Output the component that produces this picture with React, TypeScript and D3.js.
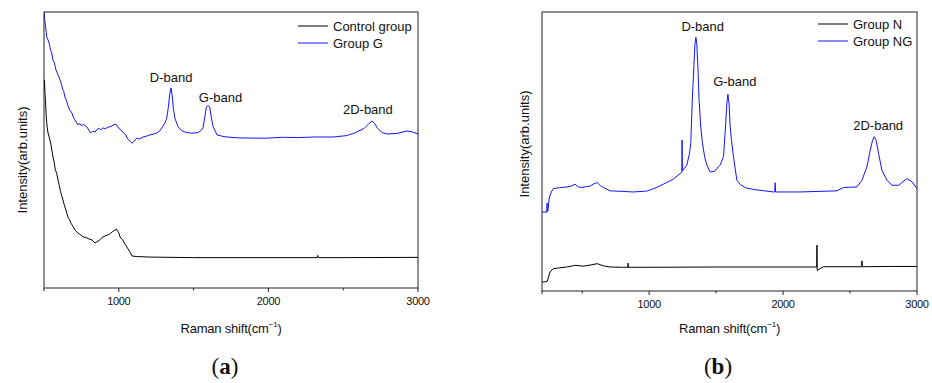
import React from "react";
import * as d3 from "d3";

// ---------- Panel (a) data ----------
const aGroupGX = [500, 505, 510, 518, 527, 535, 545, 552, 560, 570, 580, 592, 607, 615, 625, 632, 640, 650, 660, 672, 687, 695, 705, 715, 727, 740, 750, 765, 787, 800, 810, 825, 841, 855, 870, 880, 894, 910, 930, 950, 975, 990, 1000, 1015, 1028, 1045, 1060, 1075, 1088, 1100, 1120, 1140, 1162, 1185, 1210, 1235, 1255, 1275, 1290, 1309, 1320, 1330, 1340, 1349, 1356, 1365, 1375, 1396, 1420, 1442, 1480, 1523, 1545, 1563, 1575, 1585, 1597, 1608, 1618, 1630, 1656, 1690, 1723, 1800, 1900, 1990, 2100, 2200, 2300, 2432, 2520, 2580, 2600, 2640, 2670, 2692, 2710, 2730, 2760, 2793, 2860, 2926, 2960, 3000];
const aGroupGY = [100, 97, 95, 91, 89.9, 88.5, 86, 85.2, 82.6, 81.5, 79, 77.5, 75.4, 74.2, 72, 71.2, 69.2, 68, 66, 64.5, 63.4, 62, 61, 60.2, 59.1, 59.6, 58.8, 59.3, 58.3, 57.2, 56.2, 56.8, 56.5, 57.5, 57.8, 57.3, 58.0, 57.7, 58.3, 58.6, 59.4, 58.8, 57.8, 57.2, 56.5, 55.5, 54, 53.2, 52.5, 53.0, 54.3, 54.0, 54.7, 55.0, 55.5, 55.8, 56.2, 57.0, 58.2, 59.8, 61.5, 65, 70, 72.5, 70, 65, 61.5, 58.5, 57.0, 56.5, 56.1, 56.2, 56.8, 58.0, 62, 65.5, 66.2, 65.5, 62, 58.5, 55.5, 55.0, 54.7, 54.4, 54.3, 54.3, 54.6, 54.5, 54.7, 54.7, 55.2, 56.2, 56.8, 57.8, 59.5, 60.5, 59.6, 57.8, 56.3, 55.8, 56.0, 56.9, 56.6, 55.8];

const aControlX = [500, 503, 507, 510, 514, 518, 522, 527, 533, 540, 548, 560, 568, 575, 585, 594, 602, 610, 618, 627, 636, 645, 652, 660, 670, 680, 693, 707, 720, 735, 748, 761, 780, 800, 820, 841, 855, 870, 882, 894, 910, 930, 945, 960, 975, 985, 990, 1000, 1008, 1025, 1040, 1058, 1075, 1088, 1120, 1208, 1500, 2000, 2326, 2330, 2334, 2500, 3000];
const aControlY = [72, 75.4, 70, 68, 63, 60, 58, 56.2, 55, 53.6, 51.5, 47.5, 45.5, 43, 41.5, 39.1, 37.2, 35, 33.5, 31.9, 30, 28.5, 27.2, 25.7, 24.8, 23.5, 22.4, 21.0, 20.3, 19.5, 19.2, 18.5, 18.3, 17.8, 17.4, 16.3, 16.8, 17.2, 18.0, 18.5, 18.9, 19.3, 19.8, 20.5, 21.0, 21.4, 20.8, 20.0, 18.5, 17.5, 16.0, 14.5, 13.0, 11.6, 11.4, 11.2, 11.0, 11.0, 11.0, 11.8, 11.0, 11.0, 11.1];

// ---------- Panel (b) data ----------
const bGroupNGX = [200, 222, 236, 238, 240, 244, 255, 270, 284, 330, 385, 420, 447, 470, 497, 530, 559, 590, 613, 635, 658, 708, 800, 882, 982, 1057, 1106, 1181, 1231, 1244, 1246, 1248, 1260, 1281, 1300, 1311, 1322, 1334, 1342, 1349, 1356, 1364, 1373, 1385, 1398, 1415, 1431, 1455, 1490, 1517, 1530, 1555, 1570, 1580, 1588, 1597, 1605, 1615, 1630, 1655, 1680, 1720, 1779, 1929, 1938, 1941, 1944, 2128, 2402, 2452, 2552, 2589, 2626, 2651, 2668, 2681, 2695, 2713, 2738, 2776, 2813, 2863, 2925, 2963, 3000];
const bGroupNGY = [28.3, 28.3, 28.3, 31.5, 28.5, 28.7, 33.7, 35.5, 36.7, 37.0, 37.3, 37.6, 38.3, 37.3, 37.1, 37.4, 37.6, 38.5, 38.8, 37.8, 37.1, 35.9, 35.7, 35.5, 35.8, 37.1, 38.3, 40.1, 42.1, 42.6, 54.1, 43.0, 43.8, 45.1, 49, 53, 68.4, 80.4, 88.5, 90.9, 88.5, 80.4, 68.4, 59, 53, 48, 45.1, 42.7, 42.9, 44.5, 45.1, 48.1, 58.8, 67, 70.5, 67, 58.8, 54, 48.1, 39.7, 38.2, 37.0, 36.4, 35.5, 35.5, 38.8, 35.5, 35.5, 35.9, 37.1, 37.3, 39.7, 44.5, 50.5, 54, 55.3, 54, 49.3, 43.3, 39.7, 37.9, 37.9, 40.3, 39.1, 36.7];

const bGroupNX = [200, 222, 240, 260, 284, 330, 385, 447, 509, 560, 613, 658, 708, 800, 841, 843, 845, 1000, 1500, 2000, 2251, 2253, 2255, 2300, 2587, 2589, 2591, 2800, 3000];
const bGroupNY = [3.2, 3.3, 3.5, 6.8, 8.0, 8.3, 8.6, 9.2, 8.9, 9.3, 9.8, 9.0, 8.6, 8.5, 8.5, 10.0, 8.5, 8.5, 8.6, 8.6, 8.6, 16.4, 7.4, 8.7, 8.7, 10.8, 8.7, 8.8, 8.8];

const majorTicks = [1000, 2000, 3000];
const aMinorTicks = [1500, 2500];
const bMinorTicks = [500, 1500, 2500];

const FONT = "'Liberation Sans', Arial, sans-serif";
const BLUE = "#1414ff";

type Series = { xs: number[]; ys: number[]; color: string; name: string };
type Ann = { text: string; x: number; y: number };

function Panel(props: {
  id: string;
  left: number; right: number; top: number; bottom: number;
  xDomain: [number, number];
  minor: number[];
  series: Series[];
  anns: Ann[];
  legendX: number; legendY: number;
  yLabelX: number; yLabelY: number;
  tag: string; tagX: number;
}) {
  const { left, right, top, bottom } = props;
  const x = d3.scaleLinear().domain(props.xDomain).range([left, right]);
  const y = d3.scaleLinear().domain([0, 100]).range([bottom, top]);
  const line = d3.line<[number, number]>().x(d => x(d[0])).y(d => y(d[1]));
  const cx = (left + right) / 2;
  return (
    <g>
      <defs>
        <clipPath id={"clip-" + props.id}>
          <rect x={left} y={top} width={right - left} height={bottom - top} />
        </clipPath>
      </defs>
      <g clipPath={`url(#clip-${props.id})`}>
        {props.series.map(s => (
          <path key={s.name} d={line(s.xs.map((v, i) => [v, s.ys[i]] as [number, number])) || ""}
            fill="none" stroke={s.color} strokeWidth={1} strokeLinejoin="round" />
        ))}
      </g>
      <rect x={left} y={top} width={right - left} height={bottom - top} fill="none" stroke="#222" strokeWidth={1} />
      {majorTicks.map(t => (
        <g key={t}>
          <line x1={x(t)} x2={x(t)} y1={bottom} y2={bottom + 4} stroke="#222" />
          <text x={x(t)} y={bottom + 17} textAnchor="middle" fontFamily={FONT} fontSize={11} letterSpacing={-0.3} fill="#111">{t}</text>
        </g>
      ))}
      {props.minor.map(t => (
        <line key={t} x1={x(t)} x2={x(t)} y1={bottom} y2={bottom + 2.5} stroke="#222" />
      ))}
      <line x1={left} x2={left} y1={bottom} y2={bottom + 3} stroke="#222" />
      {props.anns.map(a => (
        <text key={a.text} x={x(a.x)} y={a.y} textAnchor="middle" fontFamily={FONT} fontSize={13} fill="#111">{a.text}</text>
      ))}
      {props.series.map((s, i) => (
        <g key={s.name}>
          <line x1={props.legendX} x2={props.legendX + 30} y1={props.legendY + i * 17} y2={props.legendY + i * 17} stroke={s.color} strokeWidth={1} />
          <text x={props.legendX + 35} y={props.legendY + i * 17 + 4.5} fontFamily={FONT} fontSize={13} fill="#111">{s.name}</text>
        </g>
      ))}
      <text transform={`translate(${props.yLabelX},${props.yLabelY}) rotate(-90)`} textAnchor="middle" fontFamily={FONT} fontSize={13} fill="#111">Intensity(arb.units)</text>
      <text x={cx} y={333} textAnchor="middle" fontFamily={FONT} fontSize={13} fill="#111" letterSpacing={-0.2}>
        Raman shift(cm<tspan fontSize={8} dy={-6}>−1</tspan><tspan dy={6}>)</tspan>
      </text>
      <text x={props.tagX} y={374} textAnchor="middle" fontFamily="'Liberation Serif', 'DejaVu Serif', serif" fontSize={23} fill="#111">
        (<tspan fontWeight="bold">{props.tag}</tspan>)
      </text>
    </g>
  );
}

export default function App() {
  return (
    <svg width={932} height={383} style={{ position: "absolute", left: 0, top: 0, background: "#fff" }}>
      <rect width={932} height={383} fill="#fff" />
      <Panel id="a" left={44} right={418} top={12} bottom={288} xDomain={[500, 3000]} minor={aMinorTicks}
        series={[
          { xs: aControlX, ys: aControlY, color: "#000", name: "Control group" },
          { xs: aGroupGX, ys: aGroupGY, color: BLUE, name: "Group G" },
        ]}
        anns={[
          { text: "D-band", x: 1350, y: 82 },
          { text: "G-band", x: 1680, y: 102 },
          { text: "2D-band", x: 2665, y: 114 },
        ]}
        legendX={298} legendY={26} yLabelX={27} yLabelY={160} tag="a" tagX={225} />
      <Panel id="b" left={542} right={917} top={12} bottom={291} xDomain={[200, 3000]} minor={bMinorTicks}
        series={[
          { xs: bGroupNX, ys: bGroupNY, color: "#000", name: "Group N" },
          { xs: bGroupNGX, ys: bGroupNGY, color: BLUE, name: "Group NG" },
        ]}
        anns={[
          { text: "D-band", x: 1400, y: 31 },
          { text: "G-band", x: 1640, y: 86 },
          { text: "2D-band", x: 2710, y: 130 },
        ]}
        legendX={818} legendY={24} yLabelX={529} yLabelY={144} tag="b" tagX={718} />
    </svg>
  );
}
